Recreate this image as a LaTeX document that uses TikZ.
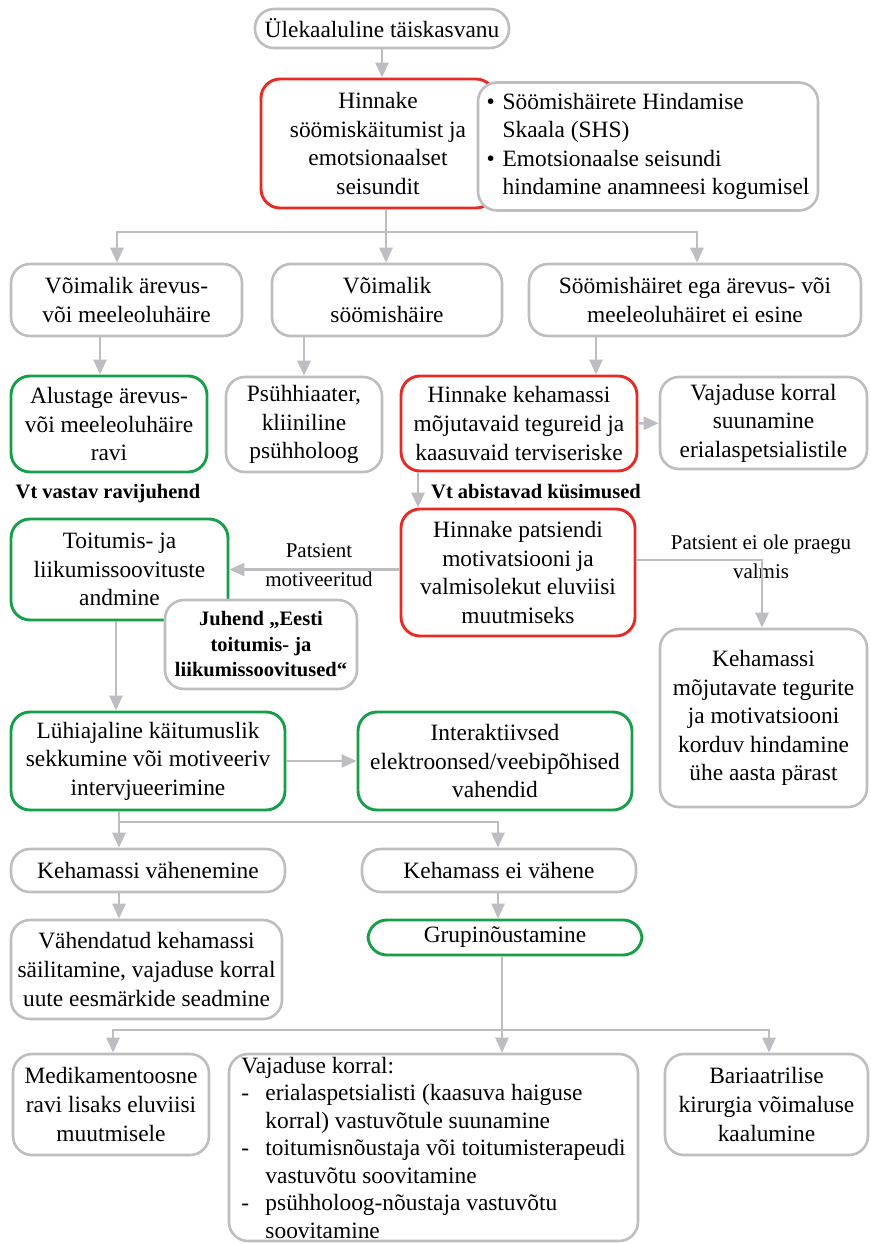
\documentclass[tikz,border=0pt]{standalone}
\usepackage{fontspec}
\setmainfont{Liberation Serif}
\usepackage{xcolor}
\usepackage{tikz}
\definecolor{boxgray}{RGB}{190,190,194}
\definecolor{evalred}{RGB}{232,42,36}
\definecolor{actgreen}{RGB}{22,158,72}
\usetikzlibrary{arrows.meta, positioning, calc}

\newcommand{\bul}{\makebox[16pt][l]{\textbullet}}
\newcommand{\itemdash}{\makebox[24pt][l]{-}}
\newcommand{\indnt}[1]{\hspace*{#1}}

\begin{document}
\begin{tikzpicture}[x=1pt, y=-1pt,
    box/.style={rectangle, draw=boxgray, line width=2.6pt, rounded corners=19pt, fill=white, inner sep=2pt, align=center, font=\fontsize{23.4}{28.6}\selectfont},
    redbox/.style={box, draw=evalred, line width=2.9pt},
    greenbox/.style={box, draw=actgreen, line width=2.9pt},
    arrow/.style={-{Triangle[length=15pt, width=13pt]}, line width=2.7pt, draw=boxgray},
    line/.style={line width=2.7pt, draw=boxgray},
    note/.style={font=\fontsize{20.5}{25}\selectfont\bfseries, inner sep=0pt},
    lbl/.style={font=\fontsize{21}{29.5}\selectfont, align=center, inner sep=0pt}
]
    \useasboundingbox (0,0) rectangle (870,1244);

    % top
    \node[box, minimum width=254, minimum height=39] (start) at (382,28.5) {Ülekaaluline täiskasvanu};
    \node[redbox, minimum width=234, minimum height=129] (eat) at (378,143.5) {Hinnake\\söömiskäitumist ja\\emotsionaalset\\seisundit};
    \node[box, minimum width=340, minimum height=128, align=left] (tools) at (648,146.5) {
        \bul Söömishäirete Hindamise\\
        \indnt{16pt}Skaala (SHS)\\
        \bul Emotsionaalse seisundi\\
        \indnt{16pt}hindamine anamneesi kogumisel
    };

    % second row
    \node[box, minimum width=231, minimum height=72] (anx) at (126.5,300) {Võimalik ärevus-\\või meeleoluhäire};
    \node[box, minimum width=230, minimum height=72] (eatd) at (387,300) {Võimalik\\söömishäire};
    \node[box, minimum width=332, minimum height=72] (none) at (695,300) {Söömishäiret ega ärevus- või\\meeleoluhäiret ei esine};

    % third row
    \node[greenbox, minimum width=196, minimum height=96] (treat) at (109,424) {Alustage ärevus-\\või meeleoluhäire\\ravi};
    \node[box, minimum width=156, minimum height=95] (psy) at (304,424.5) {Psühhiaater,\\kliiniline\\psühholoog};
    \node[redbox, minimum width=236, minimum height=95] (mass) at (519,423.5) {Hinnake kehamassi\\mõjutavaid tegureid ja\\kaasuvaid terviseriske};
    \node[box, minimum width=207, minimum height=92] (spec) at (763.5,423) {Vajaduse korral\\suunamine\\erialaspetsialistile};
    \node[note] (ravij) at (108,494) {Vt vastav ravijuhend};
    \node[note, anchor=west] (kys) at (431,492) {Vt abistavad küsimused};

    % motivation
    \node[greenbox, minimum width=217, minimum height=101] (diet) at (119.5,569.5) {Toitumis- ja\\liikumissoovituste\\andmine};
    \node[box, font=\fontsize{20.5}{25.5}\selectfont\bfseries, minimum width=192, minimum height=89] (guide) at (261,644.5) {Juhend „Eesti\\toitumis- ja\\liikumissoovitused“};
    \node[redbox, minimum width=234, minimum height=127] (motiv) at (518,572.5) {Hinnake patsiendi\\motivatsiooni ja\\valmisolekut eluviisi\\muutmiseks};
    \node[lbl] (yes) at (319,565) {Patsient\\motiveeritud};
    \node[lbl] (notyet) at (761,557) {Patsient ei ole praegu\\valmis};
    \node[box, minimum width=207, minimum height=178] (recheck) at (763.5,718) {Kehamassi\\mõjutavate tegurite\\ja motivatsiooni\\korduv hindamine\\ühe aasta pärast};

    % interventions
    \node[greenbox, minimum width=274, minimum height=98] (brief) at (148,761) {Lühiajaline käitumuslik\\sekkumine või motiveeriv\\intervjueerimine};
    \node[greenbox, minimum width=274, minimum height=98] (web) at (495,761) {Interaktiivsed\\elektroonsed/veebipõhised\\vahendid};

    % outcome
    \node[box, minimum width=274, minimum height=43] (loss) at (148,870.5) {Kehamassi vähenemine};
    \node[box, minimum width=274, minimum height=43] (noloss) at (499,870.5) {Kehamass ei vähene};
    \node[box, minimum width=271, minimum height=99] (keep) at (146.5,969.5) {Vähendatud kehamassi\\säilitamine, vajaduse korral\\uute eesmärkide seadmine};
    \node[greenbox, minimum width=274, minimum height=35] (group) at (505,937.5) {Grupinõustamine};

    % last row
    \node[box, minimum width=409, minimum height=187, align=left, font=\fontsize{23.4}{27.5}\selectfont] (refer) at (433.5,1147.5) {
        Vajaduse korral:\\
        \itemdash erialaspetsialisti (kaasuva haiguse\\
        \indnt{24pt}korral) vastuvõtule suunamine\\
        \itemdash toitumisnõustaja või toitumisterapeudi\\
        \indnt{24pt}vastuvõtu soovitamine\\
        \itemdash psühholoog-nõustaja vastuvõtu\\
        \indnt{24pt}soovitamine
    };
    \node[box, minimum width=196, minimum height=101] (drug) at (111,1104.5) {Medikamentoosne\\ravi lisaks eluviisi\\muutmisele};
    \node[box, minimum width=203, minimum height=101] (bar) at (766.5,1104.5) {Bariaatrilise\\kirurgia võimaluse\\kaalumine};

    % connectors
    \coordinate (fork1) at (386,232);
    \coordinate (fork2) at (119,822);
    \coordinate (fork3) at (502,1030);

    \draw[arrow] (start.south) -- (start.south |- eat.north);
    \draw[line] (eat.south -| fork1) -- (fork1);
    \draw[arrow] (fork1) -| ([xshift=-9.5]anx.north);
    \draw[arrow] (fork1) -- (fork1 |- eatd.north);
    \draw[arrow] (fork1) -| ([xshift=2]none.north);

    \draw[arrow] ([xshift=-26.5]anx.south) -- ([xshift=-26.5]anx.south |- treat.north);
    \draw[arrow] (eatd.south -| psy.north) -- (psy.north);
    \draw[arrow] ([xshift=-99]none.south) -- ([xshift=-99]none.south |- mass.north);
    \draw[arrow] (mass) -- (spec);
    \draw[arrow] ([xshift=-101]mass.south) -- ([xshift=-101]mass.south |- motiv.north);

    \draw[arrow] (motiv.west |- diet.east) -- (diet.east);
    \draw[arrow] ([yshift=12.5]motiv.east) -| ([xshift=-1.5]recheck.north);
    \draw[arrow] ([xshift=-3.5]diet.south) -- ([xshift=-3.5]diet.south |- brief.north);
    \draw[arrow] (brief) -- (web);

    \draw[line] (brief.south -| fork2) -- (fork2);
    \draw[arrow] (fork2) -- (fork2 |- loss.north);
    \draw[arrow] (fork2) -| ([xshift=-1]noloss.north);
    \draw[arrow] (fork2 |- loss.south) -- (fork2 |- keep.north);
    \draw[arrow] ([xshift=-1]noloss.south) -- ([xshift=-1]noloss.south |- group.north);

    \draw[line] (group.south -| fork3) -- (fork3);
    \draw[arrow] (fork3) -| ([xshift=2]drug.north);
    \draw[arrow] (fork3) -- (fork3 |- refer.north);
    \draw[arrow] (fork3) -| ([xshift=2.5]bar.north);
\end{tikzpicture}
\end{document}
